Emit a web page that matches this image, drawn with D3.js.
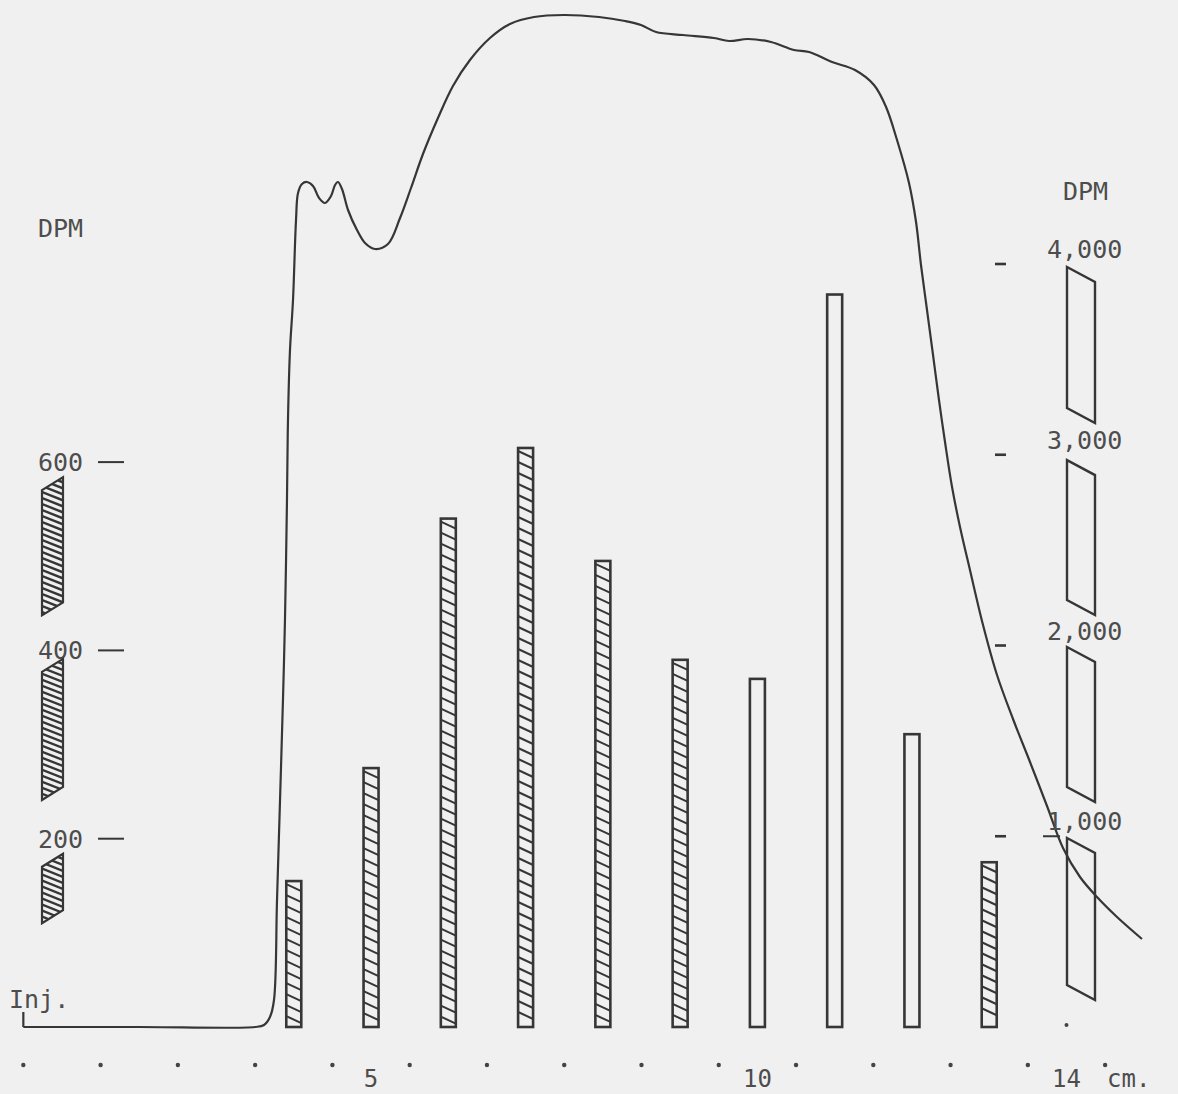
<!DOCTYPE html>
<html>
<head>
<meta charset="utf-8">
<script src="https://cdn.jsdelivr.net/npm/d3@7"></script>
<style>
  html, body { margin: 0; padding: 0; background: #f0f0f0; }
  svg { display: block; }
  text { font-family: "DejaVu Sans Mono", "Liberation Mono", monospace; fill: #4d4d4d; }
</style>
</head>
<body>
<svg id="chart" width="1178" height="1094"></svg>
<script>
// Fractions counted on the left DPM scale (hatched bars)
const hatchedCm  = [4, 5, 6, 7, 8, 9, 13];
const hatchedDpm = [155, 275, 540, 615, 495, 390, 175];

// Fractions counted on the right DPM scale (open bars)
const openCm  = [10, 11, 12];
const openDpm = [1825, 3840, 1535];

// Axis ticks and labels
const leftTicks = [200, 400, 600];
const rightTicks = [1000, 2000, 3000, 4000];
const rightTickLabels = ["1,000", "2,000", "3,000", "4,000"];
const cmLabels = [5, 10, 14];
const cmDots = [0.5, 1.5, 2.5, 3.5, 4.5, 5.5, 6.5, 7.5, 8.5, 9.5, 10.5, 11.5, 12.5, 13.5, 14.5];

// Detector trace: distance (cm) and relative absorbance
const traceCm = [0.5, 2.0, 3.50, 3.615, 3.692, 3.744, 3.783, 3.822, 3.860, 3.886, 3.912, 3.925, 3.951, 3.990,
  4.029, 4.055, 4.106, 4.171, 4.249, 4.327, 4.404, 4.482, 4.534, 4.572, 4.624, 4.702, 4.818, 4.922,
  5.051, 5.219, 5.375, 5.517, 5.672, 5.866, 6.060, 6.280, 6.539, 6.798, 7.109, 7.497, 7.950, 8.286,
  8.494, 8.688, 9.037, 9.438, 9.633, 9.878, 10.176, 10.474, 10.668, 10.966, 11.263, 11.509, 11.665,
  11.807, 11.962, 12.053, 12.117, 12.195, 12.273, 12.350, 12.428, 12.519, 12.622, 12.751, 12.920,
  13.101, 13.308, 13.528, 13.748, 13.955, 14.175, 14.395, 14.654, 14.977];
const traceAbs = [0.0, 0.0, 0.0, 0.002, 0.010, 0.027, 0.127, 0.227, 0.327, 0.407, 0.527, 0.607, 0.677, 0.727,
  0.807, 0.834, 0.843, 0.845, 0.841, 0.829, 0.824, 0.831, 0.842, 0.845, 0.838, 0.817, 0.797, 0.784,
  0.778, 0.783, 0.809, 0.839, 0.873, 0.909, 0.941, 0.967, 0.989, 1.003, 1.010, 1.012, 1.010, 1.006,
  1.002, 0.995, 0.992, 0.989, 0.986, 0.988, 0.985, 0.977, 0.975, 0.965, 0.957, 0.942, 0.920,
  0.887, 0.844, 0.805, 0.762, 0.717, 0.672, 0.627, 0.585, 0.540, 0.500, 0.457, 0.402,
  0.352, 0.308, 0.265, 0.221, 0.179, 0.150, 0.130, 0.110, 0.088];

// Scale key glyphs beside each DPM axis (value spans)
const leftKeySpans  = [[451, 584], [255, 391], [124, 184]];
const rightKeySpans = [[3245, 3984], [2238, 2972], [1258, 1992], [220, 991]];

const ink = "#363636";
const svg = d3.select("#chart");

const baseY = 1027;
const x = d3.scaleLinear().domain([0, 15]).range([-15.3, 1143.75]);
const yLeft = d3.scaleLinear().domain([0, 600]).range([baseY, 462.1]);
const yRight = d3.scaleLinear().domain([0, 4000]).range([baseY, 264]);
const yTrace = d3.scaleLinear().domain([0, 1]).range([baseY, 27]);

const barW = 15;

// hatched bars
const hatched = hatchedCm.map((c, i) => ({ cm: c, v: hatchedDpm[i] }));
const hg = svg.append("g");
hatched.forEach(d => {
  const x0 = x(d.cm) - barW / 2, x1 = x(d.cm) + barW / 2;
  const top = yLeft(d.v);
  const g = hg.append("g");
  const step = 11, drop = 7;
  const ys = d3.range(top + 3, baseY - drop - 1, step);
  g.selectAll("line").data(ys).join("line")
    .attr("x1", x0).attr("y1", y => y)
    .attr("x2", x1).attr("y2", y => y + drop)
    .attr("stroke", ink).attr("stroke-width", 2);
  g.append("rect")
    .attr("x", x0).attr("y", top)
    .attr("width", barW).attr("height", baseY - top)
    .attr("fill", "none").attr("stroke", ink).attr("stroke-width", 2.6);
});

// open bars
const open = openCm.map((c, i) => ({ cm: c, v: openDpm[i] }));
svg.append("g").selectAll("rect").data(open).join("rect")
  .attr("x", d => x(d.cm) - barW / 2)
  .attr("y", d => yRight(d.v))
  .attr("width", barW)
  .attr("height", d => baseY - yRight(d.v))
  .attr("fill", "none").attr("stroke", ink).attr("stroke-width", 2.6);

// detector trace
const trace = traceCm.map((c, i) => [c, traceAbs[i]]);
svg.append("path")
  .datum(trace)
  .attr("d", d3.line().x(d => x(d[0])).y(d => yTrace(d[1])).curve(d3.curveCatmullRom.alpha(0.5)))
  .attr("fill", "none").attr("stroke", ink).attr("stroke-width", 2.2)
  .attr("stroke-linejoin", "round");

// injection mark
svg.append("line")
  .attr("x1", x(0.5)).attr("x2", x(0.5))
  .attr("y1", yTrace(0.015)).attr("y2", yTrace(0))
  .attr("stroke", ink).attr("stroke-width", 2.2);
svg.append("text").attr("x", 9).attr("y", 1008).attr("font-size", 25).text("Inj.");

// distance dots and labels
svg.append("g").selectAll("circle").data(cmDots).join("circle")
  .attr("cx", d => x(d)).attr("cy", 1065).attr("r", 2.2).attr("fill", "#444");
svg.append("circle").attr("cx", x(14)).attr("cy", baseY - 2).attr("r", 2).attr("fill", "#444");
svg.append("g").selectAll("text").data(cmLabels).join("text")
  .attr("x", d => x(d)).attr("y", 1087)
  .attr("text-anchor", "middle").attr("font-size", 24)
  .text(d => d);
svg.append("text").attr("x", 1107).attr("y", 1087).attr("font-size", 24).text("cm.");

// left DPM axis
svg.append("text").attr("x", 38).attr("y", 237).attr("font-size", 25).text("DPM");
const la = svg.append("g");
la.selectAll("line").data(leftTicks).join("line")
  .attr("x1", 98).attr("x2", 124)
  .attr("y1", d => yLeft(d)).attr("y2", d => yLeft(d))
  .attr("stroke", ink).attr("stroke-width", 2);
la.selectAll("text").data(leftTicks).join("text")
  .attr("x", 38).attr("y", d => yLeft(d) + 9)
  .attr("font-size", 25).text(d => d);

// left key glyphs (hatched)
const kL = 42, kR = 63, kSlant = 13;
leftKeySpans.forEach((s, i) => {
  const top = yLeft(s[1]), bot = yLeft(s[0]);
  const pts = [[kL, top + kSlant], [kR, top], [kR, bot], [kL, bot + kSlant]];
  const id = "kclip" + i;
  svg.append("clipPath").attr("id", id).append("polygon").attr("points", pts.join(" "));
  const g = svg.append("g").attr("clip-path", `url(#${id})`);
  g.selectAll("line").data(d3.range(top - 10, bot + kSlant + 4, 6)).join("line")
    .attr("x1", kL - 2).attr("y1", y => y)
    .attr("x2", kR + 2).attr("y2", y => y + 10)
    .attr("stroke", ink).attr("stroke-width", 2.4);
  svg.append("polygon").attr("points", pts.join(" "))
    .attr("fill", "none").attr("stroke", ink).attr("stroke-width", 2.2);
});

// right DPM axis
svg.append("text").attr("x", 1063).attr("y", 200).attr("font-size", 25).text("DPM");
const ra = svg.append("g");
ra.selectAll("line").data(rightTicks).join("line")
  .attr("x1", 995).attr("x2", 1006)
  .attr("y1", d => yRight(d)).attr("y2", d => yRight(d))
  .attr("stroke", ink).attr("stroke-width", 2.6);
ra.selectAll("text").data(rightTicks).join("text")
  .attr("x", 1047).attr("y", d => yRight(d) - 6)
  .attr("font-size", 25).text((d, i) => rightTickLabels[i]);
ra.append("line")
  .attr("x1", 1043).attr("x2", 1060)
  .attr("y1", yRight(1000)).attr("y2", yRight(1000))
  .attr("stroke", ink).attr("stroke-width", 2);

// right key glyphs (open)
const rL = 1067, rR = 1095, rSlant = 15;
rightKeySpans.forEach(s => {
  const top = yRight(s[1]), bot = yRight(s[0]);
  const pts = [[rL, top], [rR, top + rSlant], [rR, bot + rSlant], [rL, bot]];
  svg.append("polygon").attr("points", pts.join(" "))
    .attr("fill", "none").attr("stroke", ink).attr("stroke-width", 2.4);
});
</script>
</body>
</html>
